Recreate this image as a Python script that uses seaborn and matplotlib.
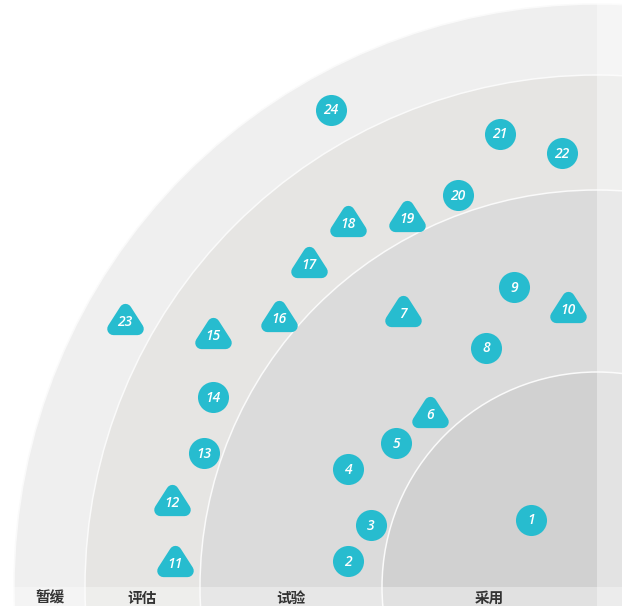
"""Tech radar quadrant (采用 / 试验 / 评估 / 暂缓) with numbered blips."""
import matplotlib
matplotlib.use("Agg")
import matplotlib.pyplot as plt
from matplotlib.markers import MarkerStyle
from matplotlib.patches import Circle, Rectangle
from matplotlib.path import Path
import pandas as pd
import seaborn as sns

# rings, innermost first
RING_NAMES = ["采用", "试验", "评估", "暂缓"]
RING_RADII = [215, 397, 512, 583]
RING_COLORS = ["#d1d1d1", "#dbdbdb", "#e6e5e3", "#efefef"]

# blips (pixel positions in the 622x606 frame)
BLIP_IDS = list(range(1, 25))
BLIP_X = [531, 348, 371, 348, 396, 430, 403, 486, 514, 568, 175, 172,
          204, 213, 213, 279, 309, 348, 407, 458, 500, 562, 125, 331]
BLIP_Y = [520, 561, 525, 469, 443, 412, 311, 348, 287, 307, 561, 500,
          453, 397, 333, 316, 262, 221, 216, 195, 134, 153, 319, 110]
BLIP_SHAPE = ["circle", "circle", "circle", "circle", "circle", "triangle",
              "triangle", "circle", "circle", "triangle", "triangle", "triangle",
              "circle", "circle", "triangle", "triangle", "triangle", "triangle",
              "triangle", "circle", "circle", "circle", "triangle", "circle"]

BLIP_COLOR = "#27bccf"
CENTER = (597, 587)
W, H = 622, 606

sns.set_style("white")
plt.rcParams["font.family"] = ["Noto Sans CJK SC", "DejaVu Sans"]

blips = pd.DataFrame({"id": BLIP_IDS, "x": BLIP_X, "y": BLIP_Y, "shape": BLIP_SHAPE})

fig = plt.figure(figsize=(W / 100, H / 100), dpi=100)
ax = fig.add_axes([0, 0, 1, 1])
ax.set_xlim(0, W)
ax.set_ylim(H, 0)
ax.axis("off")

# rings, outermost drawn first
for r, c in zip(RING_RADII[::-1], RING_COLORS[::-1]):
    ax.add_patch(Circle(CENTER, r, facecolor=c, edgecolor="#fafafa", lw=1.1, zorder=1))

# faded neighbouring quadrants (right strip and bottom band)
ax.add_patch(Rectangle((CENTER[0], 0), W - CENTER[0], H, facecolor="white",
                       alpha=0.4, lw=0, zorder=2))
ax.add_patch(Rectangle((0, CENTER[1]), W, H - CENTER[1], facecolor="white",
                       alpha=0.35, lw=0, zorder=2))

# ring names in the bottom band
inner = [0] + RING_RADII[:-1]
for name, r0, r1 in zip(RING_NAMES, inner, RING_RADII):
    ax.text(CENTER[0] - (r0 + r1) / 2, (CENTER[1] + H) / 2 + 1, name,
            ha="center", va="center", fontsize=10.5, fontweight="bold",
            color="#333333", zorder=3)

# rounded triangle marker
tri = MarkerStyle(Path([(0, 0.78), (-1, -0.78), (1, -0.78), (0, 0.78)],
                       [Path.MOVETO, Path.LINETO, Path.LINETO, Path.CLOSEPOLY]))

circles = blips[blips["shape"] == "circle"]
triangles = blips[blips["shape"] == "triangle"]
sns.scatterplot(data=circles, x="x", y="y", s=500, color=BLIP_COLOR,
                linewidth=0, ax=ax, zorder=4, legend=False)
sns.scatterplot(data=triangles, x="x", y="y", marker=tri, s=300, color=BLIP_COLOR,
                edgecolor=BLIP_COLOR, linewidth=9, ax=ax, zorder=4, legend=False)
for coll in ax.collections:
    coll.set_joinstyle("round")

for _, b in blips.iterrows():
    dy = 3 if b["shape"] == "triangle" else 0.5
    ax.text(b["x"], b["y"] + dy, str(b["id"]), ha="center", va="center",
            fontsize=10, fontstyle="italic", fontweight="semibold",
            family=["Open Sans", "DejaVu Sans"], color="white", zorder=5)

ax.set_xlim(0, W)
ax.set_ylim(H, 0)
fig.savefig("out.png", dpi=100)
plt.close(fig)
